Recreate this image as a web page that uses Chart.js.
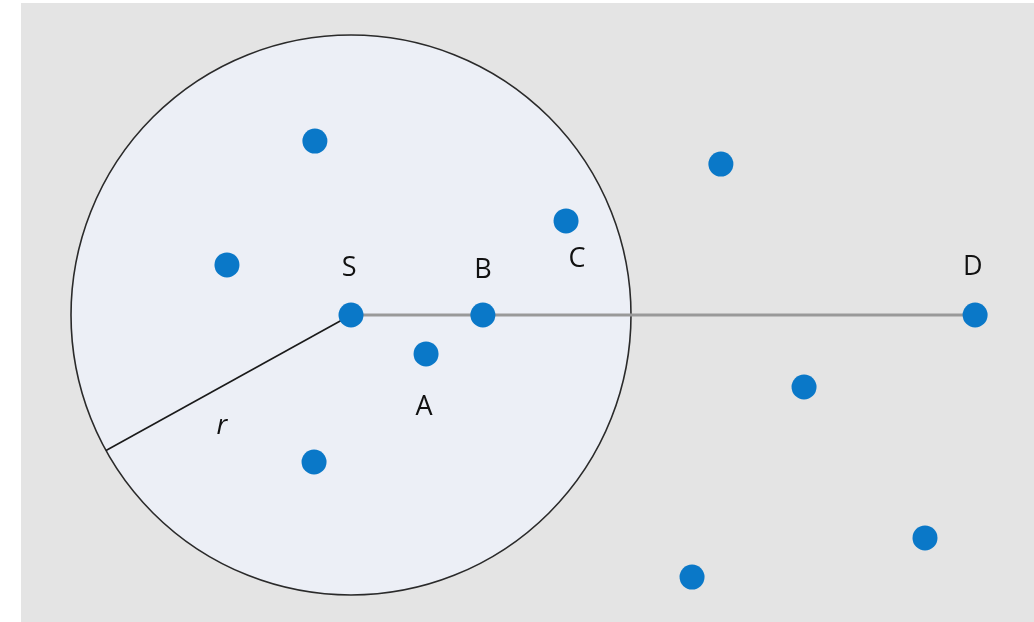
<!DOCTYPE html>
<html>
<head>
<meta charset="utf-8">
<script src="https://cdn.jsdelivr.net/npm/chart.js@4/dist/chart.umd.min.js"></script>
<style>
html,body{margin:0;padding:0;background:#ffffff;width:1034px;height:622px;overflow:hidden;}
#wrap{position:absolute;left:21px;top:3px;width:1013px;height:619px;background:#e4e4e4;}
</style>
</head>
<body>
<div id="wrap"><canvas id="c"></canvas></div>
<script>
// Data units: S at origin, circle radius r = 10
const nodesX = [-1.29, -4.43, 0, 4.71, 7.68, 2.68, -1.32, 13.21, 22.29, 16.18, 20.5, 12.18];
const nodesY = [6.21, 1.79, 0, 0, 3.36, -1.39, -5.25, 5.39, 0, -2.57, -7.96, -9.36];
const rangeRadius = 10;
const pathX = [0, 22.29];          // S to D
const pathY = [0, 0];
const radiusX = [0, -8.75];        // S to circle edge
const radiusY = [0, -4.84];
const labelText = ['S', 'B', 'C', 'D', 'A', 'r'];
const labelX = [-0.07, 4.71, 8.07, 22.21, 2.61, -4.61];
const labelY = [1.68, 1.61, 2.0, 1.71, -3.29, -3.96];
const labelItalic = [false, false, false, false, false, true];

const toPts = (xs, ys) => xs.map((x, i) => ({x: x, y: ys[i]}));

const circlePlugin = {
  id: 'circle',
  beforeDatasetsDraw(chart) {
    const {ctx, scales: {x, y}} = chart;
    const cx = x.getPixelForValue(0), cy = y.getPixelForValue(0);
    const r = x.getPixelForValue(rangeRadius) - cx;
    ctx.save();
    ctx.beginPath();
    ctx.arc(cx, cy, r, 0, Math.PI * 2);
    ctx.fillStyle = '#eceff6';
    ctx.fill();
    ctx.lineWidth = 1.6;
    ctx.strokeStyle = '#2a2a2a';
    ctx.stroke();
    ctx.restore();
  }
};

const labelPlugin = {
  id: 'labels',
  afterDatasetsDraw(chart) {
    const {ctx, scales: {x, y}} = chart;
    ctx.save();
    ctx.fillStyle = '#111111';
    ctx.textAlign = 'center';
    ctx.textBaseline = 'middle';
    labelText.forEach((t, i) => {
      ctx.font = (labelItalic[i] ? 'italic ' : '') + '27px "Open Sans", "Noto Sans", sans-serif';
      ctx.fillText(t, x.getPixelForValue(labelX[i]), y.getPixelForValue(labelY[i]));
    });
    ctx.restore();
  }
};

new Chart(document.getElementById('c'), {
  type: 'scatter',
  data: {
    datasets: [
      {
        type: 'line',
        data: toPts(pathX, pathY),
        borderColor: '#999999',
        borderWidth: 3,
        pointRadius: 0,
        clip: false,
        order: 3
      },
      {
        type: 'line',
        data: toPts(radiusX, radiusY),
        borderColor: '#1a1a1a',
        borderWidth: 1.6,
        pointRadius: 0,
        clip: false,
        order: 2
      },
      {
        data: toPts(nodesX, nodesY),
        backgroundColor: '#0a78c8',
        borderColor: '#0a78c8',
        borderWidth: 0,
        pointRadius: 12.5,
        clip: false,
        order: 1
      }
    ]
  },
  options: {
    responsive: true,
    maintainAspectRatio: false,
    animation: false,
    layout: {padding: 0, autoPadding: false},
    plugins: {legend: {display: false}, tooltip: {enabled: false}},
    events: [],
    scales: {
      x: {type: 'linear', display: false, min: -11.786, max: 24.393},
      y: {type: 'linear', display: false, min: -10.964, max: 11.143}
    }
  },
  plugins: [circlePlugin, labelPlugin]
});
</script>
</body>
</html>
